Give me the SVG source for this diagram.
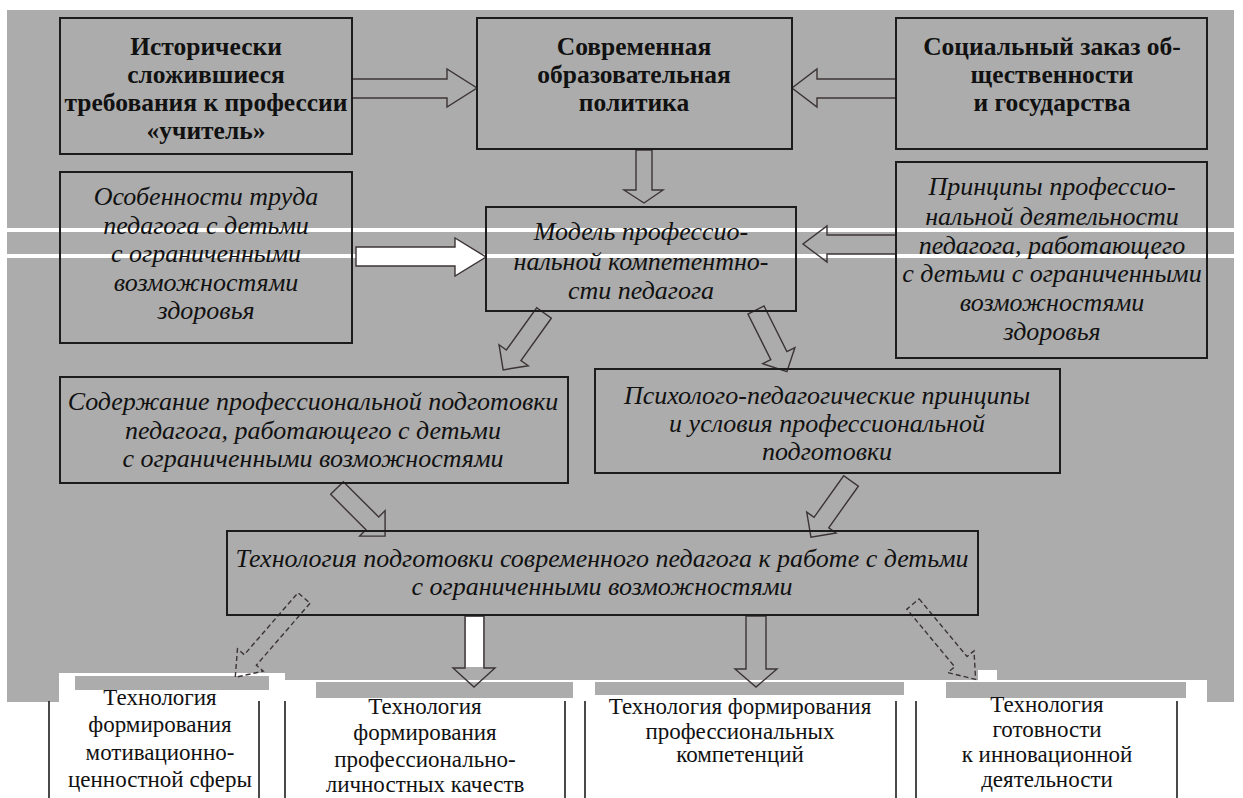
<svg xmlns="http://www.w3.org/2000/svg" width="1243" height="798" viewBox="0 0 1243 798">
<defs>
<style>
.bg{fill:#acacac}
.w{fill:#ffffff}
.box{fill:none;stroke:#1c1c1c;stroke-width:2}
.arr{fill:none;stroke:#3c3434;stroke-width:1.4}
.arrw{fill:#ffffff;stroke:#3c3434;stroke-width:1.4}
.dash{fill:none;stroke:#3c3434;stroke-width:1.4;stroke-dasharray:5 3}
.vl{stroke:#1c1c1c;stroke-width:1.6}
.tb{font-family:"Liberation Serif","Times New Roman",serif;font-weight:bold;font-size:25.5px;fill:#111;text-anchor:middle}
.ti{font-family:"Liberation Serif","Times New Roman",serif;font-style:italic;font-size:26px;fill:#111;text-anchor:middle}
.tr{font-family:"Liberation Serif","Times New Roman",serif;font-size:23px;fill:#111;text-anchor:middle}
</style>
</defs>
<rect class="w" x="0" y="0" width="1243" height="798"/>
<g id="background">
<rect class="bg" x="7" y="10" width="1227" height="692"/>
<rect class="w" x="0" y="228" width="1243" height="4"/>
<rect class="w" x="0" y="254" width="1243" height="4"/>
<rect class="w" x="59" y="673" width="226" height="29"/>
<rect class="w" x="285" y="680" width="922" height="22"/>
<rect class="bg" x="75" y="676" width="194" height="14"/>
<rect class="bg" x="316" y="682" width="257" height="16"/>
<rect class="bg" x="595" y="682" width="309" height="13"/>
<rect class="bg" x="946" y="682" width="240" height="16"/>
<rect class="w" x="978" y="670" width="19" height="12"/>
</g>
<g id="connectors">
<polygon class="arr" points="352,79 447,79 447,69 477,88 447,107 447,98 352,98"/>
<polygon class="arr" points="896,79 817,79 817,69 792,88 817,107 817,98 896,98"/>
<polygon class="arr" points="636,150 652,150 652,190 663,190 644,203 624,190 636,190"/>
<polygon class="arrw" points="356,247 455,247 455,238 486,257 455,276 455,266 356,266"/>
<polygon class="arr" points="896,235 827,235 827,226 803,244 827,262 827,254 896,254"/>
<polygon class="arr" transform="translate(544,313) rotate(125.7)" points="0,-9 52,-9 52,-18 70,0 52,18 52,9 0,9"/>
<polygon class="arr" transform="translate(756,310) rotate(63.4)" points="0,-9 51,-9 51,-18 69,0 51,18 51,9 0,9"/>
<polygon class="arr" transform="translate(337,488) rotate(45)" points="0,-9 50,-9 50,-18 68,0 50,18 50,9 0,9"/>
<polygon class="arr" transform="translate(851,481) rotate(125.5)" points="0,-9 51,-9 51,-18 69,0 51,18 51,9 0,9"/>
<polygon class="dash" transform="translate(304,598) rotate(130.9)" points="0,-8 82,-8 82,-17 105,0 82,17 82,8 0,8"/>
<polygon class="dash" transform="translate(913,604) rotate(50.3)" points="0,-8 75,-8 75,-17 98,0 75,17 75,8 0,8"/>
<polygon class="arr" points="465,616 484,616 484,668 495,668 474,687 453,668 465,668"/>
<rect class="w" x="466" y="617" width="17" height="50"/>
<polygon class="arr" points="746,616 766,616 766,669 777,669 756,687 735,669 746,669"/>
</g>
<g id="n-historical">
<rect class="box" x="60" y="18" width="292" height="136"/>
<text class="tb" x="206" y="55">Исторически</text>
<text class="tb" x="206" y="83">сложившиеся</text>
<text class="tb" x="206" y="111">требования к профессии</text>
<text class="tb" x="206" y="139">«учитель»</text>
</g>
<g id="n-policy">
<rect class="box" x="477" y="18" width="315" height="131"/>
<text class="tb" x="634" y="55">Современная</text>
<text class="tb" x="634" y="83">образовательная</text>
<text class="tb" x="634" y="111">политика</text>
</g>
<g id="n-social">
<rect class="box" x="896" y="18" width="311" height="131"/>
<text class="tb" x="1052" y="55">Социальный заказ об-</text>
<text class="tb" x="1052" y="83">щественности</text>
<text class="tb" x="1052" y="111">и государства</text>
</g>
<g id="n-features">
<rect class="box" x="60" y="172" width="292" height="171"/>
<text class="ti" x="206" y="205">Особенности труда</text>
<text class="ti" x="206" y="234">педагога с детьми</text>
<text class="ti" x="206" y="262">с ограниченными</text>
<text class="ti" x="206" y="291">возможностями</text>
<text class="ti" x="206" y="319">здоровья</text>
</g>
<g id="n-model">
<rect class="box" x="486" y="207" width="310" height="104"/>
<text class="ti" x="641" y="240">Модель профессио-</text>
<text class="ti" x="641" y="270">нальной компетентно-</text>
<text class="ti" x="641" y="299">сти педагога</text>
</g>
<g id="n-principles">
<rect class="box" x="896" y="162" width="311" height="196"/>
<text class="ti" x="1052" y="195">Принципы профессио-</text>
<text class="ti" x="1052" y="225">нальной деятельности</text>
<text class="ti" x="1052" y="254">педагога, работающего</text>
<text class="ti" x="1052" y="282">с детьми с ограниченными</text>
<text class="ti" x="1052" y="311">возможностями</text>
<text class="ti" x="1052" y="340">здоровья</text>
</g>
<g id="n-content">
<rect class="box" x="60" y="377" width="508" height="106"/>
<text class="ti" x="313" y="410">Содержание профессиональной подготовки</text>
<text class="ti" x="313" y="439">педагога, работающего с детьми</text>
<text class="ti" x="313" y="467">с ограниченными возможностями</text>
</g>
<g id="n-psych">
<rect class="box" x="595" y="369" width="465" height="104"/>
<text class="ti" x="827" y="404">Психолого-педагогические принципы</text>
<text class="ti" x="827" y="432">и условия профессиональной</text>
<text class="ti" x="827" y="460">подготовки</text>
</g>
<g id="n-technology">
<rect class="box" x="227" y="531" width="751" height="84"/>
<text class="ti" x="602" y="567">Технология подготовки современного педагога к работе с детьми</text>
<text class="ti" x="602" y="595">с ограниченными возможностями</text>
</g>
<g id="n-motivation">
<line class="vl" x1="49" y1="701" x2="49" y2="798"/>
<line class="vl" x1="259" y1="701" x2="259" y2="798"/>
<text class="tr" x="160" y="705">Технология</text>
<text class="tr" x="160" y="732">формирования</text>
<text class="tr" x="160" y="760">мотивационно-</text>
<text class="tr" x="160" y="787">ценностной сферы</text>
</g>
<g id="n-personal">
<line class="vl" x1="285" y1="701" x2="285" y2="798"/>
<line class="vl" x1="565" y1="701" x2="565" y2="798"/>
<text class="tr" x="425" y="714">Технология</text>
<text class="tr" x="425" y="740">формирования</text>
<text class="tr" x="425" y="767">профессионально-</text>
<text class="tr" x="425" y="792">личностных качеств</text>
</g>
<g id="n-competence">
<line class="vl" x1="585" y1="701" x2="585" y2="798"/>
<line class="vl" x1="896" y1="701" x2="896" y2="798"/>
<text class="tr" x="740" y="714">Технология формирования</text>
<text class="tr" x="740" y="739">профессиональных</text>
<text class="tr" x="740" y="762">компетенций</text>
</g>
<g id="n-innovation">
<line class="vl" x1="916" y1="701" x2="916" y2="798"/>
<line class="vl" x1="1177" y1="701" x2="1177" y2="798"/>
<text class="tr" x="1047" y="712">Технология</text>
<text class="tr" x="1047" y="737">готовности</text>
<text class="tr" x="1047" y="762">к инновационной</text>
<text class="tr" x="1047" y="787">деятельности</text>
</g>
</svg>
